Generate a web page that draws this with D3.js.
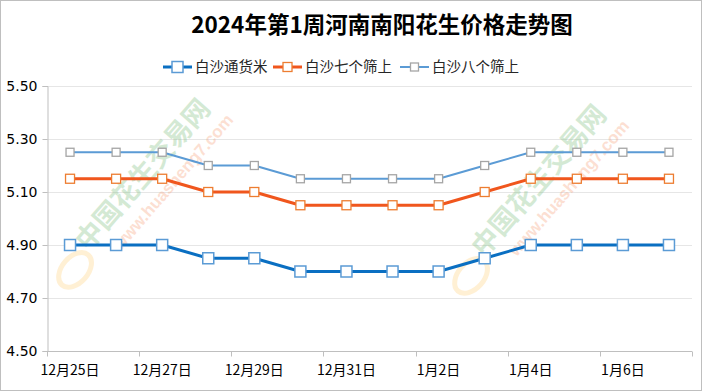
<!DOCTYPE html>
<html><head><meta charset="utf-8">
<script src="https://cdn.jsdelivr.net/npm/d3@7"></script>
<style>
html,body{margin:0;padding:0;background:#fff;}
svg{display:block;}
</style></head>
<body>
<svg id="c" width="702" height="391"></svg>
<script>
const categories = ["12月25日","12月26日","12月27日","12月28日","12月29日","12月30日","12月31日","1月1日","1月2日","1月3日","1月4日","1月5日","1月6日","1月7日"];
const tickLabels = ["12月25日","12月27日","12月29日","12月31日","1月2日","1月4日","1月6日"];
const yTicks = [4.50,4.70,4.90,5.10,5.30,5.50];
const seriesNames = ["白沙通货米","白沙七个筛上","白沙八个筛上"];
const baishaTonghuo = [4.90,4.90,4.90,4.85,4.85,4.80,4.80,4.80,4.80,4.85,4.90,4.90,4.90,4.90];
const baishaQi = [5.15,5.15,5.15,5.10,5.10,5.05,5.05,5.05,5.05,5.10,5.15,5.15,5.15,5.15];
const baishaBa = [5.25,5.25,5.25,5.20,5.20,5.15,5.15,5.15,5.15,5.20,5.25,5.25,5.25,5.25];

const styles = [
  {line:"#0A6FC2", lw:3, mstroke:"#5B9BD5", ms:11, msw:1.5},
  {line:"#F0561D", lw:3, mstroke:"#ED7D31", ms:9, msw:1.3},
  {line:"#5B9BD5", lw:2, mstroke:"#A5A5A5", ms:8, msw:1.3}
];
const data = [baishaTonghuo, baishaQi, baishaBa];

const svg = d3.select("#c");
svg.append("rect").attr("x",0.5).attr("y",0.5).attr("width",701).attr("height",390)
  .attr("fill","#fff").attr("stroke","#BFBFBF");

const L=47, R=692, T=86, B=351;
const x = d3.scaleBand().domain(categories).range([L,R]);
const y = d3.scaleLinear().domain([4.5,5.5]).range([B,T]);
const cx = c => x(c) + x.bandwidth()/2;

// title
svg.append("text").attr("x",382).attr("y",33).attr("text-anchor","middle")
  .attr("font-family","'Noto Sans CJK SC'").attr("font-weight","bold").attr("font-size",22.5)
  .attr("fill","#000").text("2024年第1周河南南阳花生价格走势图");

// gridlines
svg.append("g").selectAll("line").data(yTicks.slice(1)).join("line")
  .attr("x1",L).attr("x2",R).attr("y1",d=>y(d)+0.5).attr("y2",d=>y(d)+0.5)
  .attr("stroke","#E6E6E6").attr("stroke-width",1);

// watermark
function watermark(px, py){
  const g = svg.append("g").attr("transform",`translate(${px},${py}) rotate(-49)`).attr("opacity",0.33);
  g.append("text").attr("x",0).attr("y",0).attr("font-family","'Noto Sans CJK SC'").attr("font-size",27)
    .attr("font-weight","bold").attr("fill","#7FBF7F").text("中国花生交易网");
  g.append("text").attr("x",22).attr("y",24).attr("font-family","Arial, 'Liberation Sans'").attr("font-size",17)
    .attr("font-weight","bold").attr("fill","#F6A07A").text("www.huasheng7.com");
  g.append("ellipse").attr("cx",-22).attr("cy",2).attr("rx",20).attr("ry",13).attr("fill","none")
    .attr("stroke","#FFD27F").attr("stroke-width",5);
}
watermark(88,252);
watermark(484,258);

// axes
const yAxis = svg.append("g").attr("transform",`translate(${L+0.5},0)`)
  .call(d3.axisLeft(y).tickValues(yTicks).tickFormat(d3.format(".2f")).tickSize(5).tickPadding(5));
yAxis.select(".domain").attr("stroke","#BFBFBF");
yAxis.selectAll(".tick line").attr("stroke","#BFBFBF");
yAxis.selectAll("text").attr("font-family","'DejaVu Sans'").attr("font-size",14).attr("fill","#000");

const xAxisG = svg.append("g").attr("transform",`translate(0,${B+0.5})`);
xAxisG.append("line").attr("x1",L).attr("x2",R).attr("stroke","#BFBFBF");
const tickPos = d3.range(0, categories.length+1, 2).map(i => i < categories.length ? x(categories[i]) : R);
xAxisG.selectAll("line.t").data(tickPos).join("line").attr("class","t")
  .attr("x1",d=>Math.round(d)+0.5).attr("x2",d=>Math.round(d)+0.5).attr("y1",0).attr("y2",5).attr("stroke","#BFBFBF");
xAxisG.selectAll("text").data(tickLabels).join("text")
  .attr("x",d=>cx(d)).attr("y",23).attr("text-anchor","middle")
  .attr("font-family","'Noto Sans CJK SC'").attr("font-size",14).attr("fill","#000").text(d=>d);

// series
data.forEach((vals,i)=>{
  const s = styles[i];
  const line = d3.line().x((d,j)=>cx(categories[j])).y(d=>y(d));
  svg.append("path").datum(vals).attr("d",line).attr("fill","none")
    .attr("stroke",s.line).attr("stroke-width",s.lw).attr("stroke-linejoin","round");
});
data.forEach((vals,i)=>{
  const s = styles[i];
  svg.append("g").selectAll("rect").data(vals).join("rect")
    .attr("x",(d,j)=>cx(categories[j]) - s.ms/2)
    .attr("y",d=>y(d)-s.ms/2).attr("width",s.ms).attr("height",s.ms)
    .attr("fill","#fff").attr("stroke",s.mstroke).attr("stroke-width",s.msw);
});

// legend
const legendX = [163, 273, 400];
const lg = svg.append("g");
seriesNames.forEach((n,i)=>{
  const s = styles[i];
  const g = lg.append("g").attr("transform",`translate(${legendX[i]},67)`);
  g.append("line").attr("x1",0).attr("x2",29).attr("y1",0).attr("y2",0).attr("stroke",s.line).attr("stroke-width",s.lw);
  g.append("rect").attr("x",14.5-s.ms/2).attr("y",-s.ms/2).attr("width",s.ms).attr("height",s.ms)
    .attr("fill","#fff").attr("stroke",s.mstroke).attr("stroke-width",s.msw);
  g.append("text").attr("x",32).attr("y",5).attr("font-family","'Noto Sans CJK SC'").attr("font-size",14.5)
    .attr("fill","#262626").text(n);
});
</script>
</body></html>
